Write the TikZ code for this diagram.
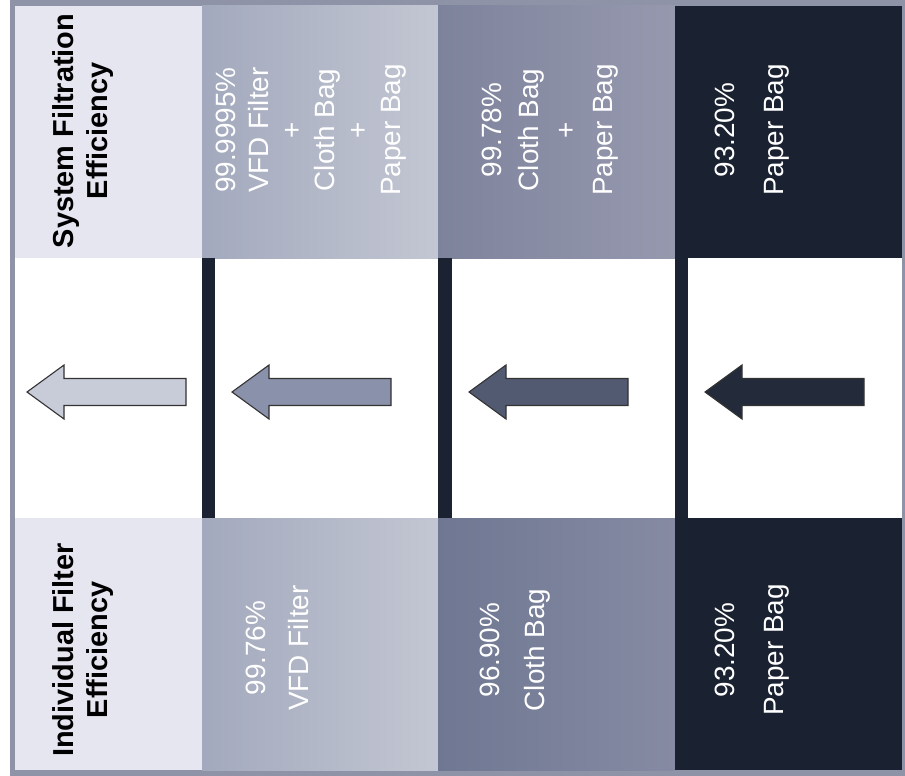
\documentclass[tikz,border=0pt]{standalone}
\usepackage{fontspec}
\setmainfont{Liberation Sans}
\usepackage{tikz}

\definecolor{frameg}{HTML}{8E93A8}
\definecolor{headbg}{HTML}{E6E6F1}
\definecolor{vfdL}{HTML}{A3A9BD}
\definecolor{vfdR}{HTML}{C3C7D3}
\definecolor{clothL}{HTML}{7E839C}
\definecolor{clothR}{HTML}{9699AE}
\definecolor{clothLb}{HTML}{6F7792}
\definecolor{clothRb}{HTML}{868BA3}
\definecolor{paperbg}{HTML}{1A2130}
\definecolor{barc}{HTML}{1B2332}
\definecolor{arA}{HTML}{C8CCD8}
\definecolor{arB}{HTML}{8A91AA}
\definecolor{arC}{HTML}{525A72}
\definecolor{arD}{HTML}{232B3B}

\begin{document}
\begin{tikzpicture}[x=1bp,y=-1bp,
  hd/.style={rotate=90,align=center,text=black,font=\fontsize{29}{35}\selectfont\bfseries},
  val/.style={rotate=90,align=center,text=white,font=\fontsize{28}{#1}\selectfont},
  arw/.style={draw=black!80,line width=1.1bp,line join=miter}]
  \useasboundingbox (0,0) rectangle (905,776);
  \fill[white] (0,0) rectangle (905,776); % 背景
  \fill[frameg] (10,0) rectangle (905,776); % 外枠
  \fill[white] (15,6) rectangle (902,770); % 中央の白い帯
  \fill[headbg] (15,6) rectangle (202,258); % 見出し（上）
  \fill[headbg] (15,518) rectangle (202,770); % 見出し（下）
  \shade[left color=vfdL,right color=vfdR] (202,6) rectangle (438,258); % VFD列（上）
  \shade[left color=vfdL,right color=vfdR] (202,518) rectangle (438,770); % VFD列（下）
  \shade[left color=clothL,right color=clothR] (438,6) rectangle (675,258); % 布袋列（上）
  \shade[left color=clothLb,right color=clothRb] (438,518) rectangle (675,770); % 布袋列（下）
  \fill[paperbg] (675,6) rectangle (902,258); % 紙袋列（上）
  \fill[paperbg] (675,518) rectangle (902,770); % 紙袋列（下）
  \fill[barc] (202,258) rectangle (215,518); % 仕切り1
  \fill[barc] (438,258) rectangle (452,518); % 仕切り2
  \fill[barc] (675,258) rectangle (688,518); % 仕切り3
  \foreach \t/\c in {27/arA,232/arB,469/arC,705/arD}
    \filldraw[arw,fill=\c] (\t,392) -- (\t+37,365) -- (\t+37,378.5) -- (\t+159,378.5)
      -- (\t+159,405.5) -- (\t+37,405.5) -- (\t+37,419) -- cycle; % 左向きの矢印
  \node[hd] (sysHead) at (83,131) {System Filtration\\Efficiency};
  \node[hd] (indHead) at (83,650) {Individual Filter\\Efficiency};
  \node[val=33] (sysVfd) at (311,130) {99.9995\%\\VFD Filter\\+\\Cloth Bag\\+\\Paper Bag};
  \node[val=37] (sysCloth) at (550,130) {99.78\%\\Cloth Bag\\+\\Paper Bag};
  \node[val=49] (sysPaper) at (752,130) {93.20\%\\Paper Bag};
  \node[val=43] (indVfd) at (277,648) {99.76\%\\VFD Filter};
  \node[val=45] (indCloth) at (515,650) {96.90\%\\Cloth Bag};
  \node[val=49] (indPaper) at (752,650) {93.20\%\\Paper Bag};
\end{tikzpicture}
\end{document}
